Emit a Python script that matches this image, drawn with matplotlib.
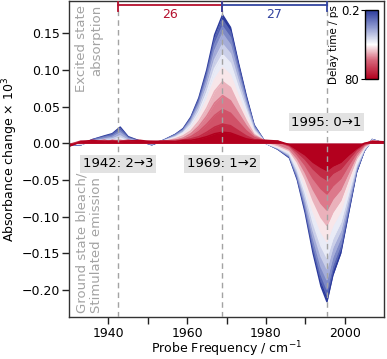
import numpy as np
import matplotlib
matplotlib.use("Agg")
import matplotlib.pyplot as plt
from matplotlib.colors import LinearSegmentedColormap, LogNorm
from matplotlib.cm import ScalarMappable

# probe frequency grid (cm-1)
freq = [1930, 1933, 1936, 1939, 1941, 1943, 1945, 1948, 1951,
        1954, 1957, 1959, 1961, 1963, 1965, 1967, 1969, 1971, 1973, 1975, 1977,
        1980, 1983, 1986, 1988, 1990, 1992, 1994, 1995.5, 1997, 1999, 2001, 2003, 2005, 2007, 2010]

# delay times (ps)
delays = [0.2, 0.4, 0.7, 1.2, 2, 3, 5, 8, 13, 22, 40, 80]

# absorbance change x 10^3, one row per delay time
spectra = [
    [-0.003, -0.002, 0.005, 0.010, 0.013, 0.022, 0.009, 0.003, -0.002,
     0.004, 0.012, 0.020, 0.036, 0.062, 0.100, 0.148, 0.175, 0.158, 0.110, 0.065, 0.025,
     0.000, -0.008, -0.020, -0.050, -0.095, -0.150, -0.195, -0.216, -0.180, -0.150, -0.095, -0.040, -0.010, 0.005, 0.000],
    [-0.003, -0.002, 0.005, 0.009, 0.012, 0.020, 0.008, 0.003, -0.002,
     0.004, 0.012, 0.019, 0.035, 0.060, 0.096, 0.142, 0.168, 0.152, 0.106, 0.062, 0.024,
     0.000, -0.008, -0.019, -0.048, -0.091, -0.144, -0.187, -0.207, -0.173, -0.144, -0.091, -0.038, -0.010, 0.005, 0.000],
    [-0.002, -0.002, 0.004, 0.008, 0.010, 0.017, 0.007, 0.002, -0.001,
     0.004, 0.011, 0.018, 0.033, 0.056, 0.091, 0.135, 0.159, 0.144, 0.100, 0.059, 0.023,
     0.000, -0.007, -0.018, -0.046, -0.087, -0.138, -0.179, -0.199, -0.166, -0.138, -0.087, -0.037, -0.009, 0.005, 0.000],
    [-0.002, -0.001, 0.003, 0.006, 0.008, 0.014, 0.006, 0.002, -0.001,
     0.003, 0.010, 0.017, 0.031, 0.053, 0.085, 0.126, 0.149, 0.134, 0.094, 0.055, 0.021,
     0.000, -0.007, -0.017, -0.043, -0.082, -0.129, -0.168, -0.186, -0.155, -0.129, -0.082, -0.034, -0.009, 0.004, 0.000],
    [-0.001, -0.001, 0.002, 0.005, 0.006, 0.010, 0.004, 0.001, 0.000,
     0.003, 0.009, 0.015, 0.028, 0.048, 0.077, 0.114, 0.135, 0.122, 0.085, 0.050, 0.019,
     0.000, -0.006, -0.016, -0.040, -0.075, -0.119, -0.154, -0.171, -0.142, -0.119, -0.075, -0.032, -0.008, 0.004, 0.000],
    [-0.001, -0.001, 0.002, 0.003, 0.004, 0.007, 0.003, 0.001, 0.000,
     0.003, 0.008, 0.014, 0.025, 0.043, 0.069, 0.102, 0.121, 0.109, 0.076, 0.045, 0.017,
     0.000, -0.006, -0.014, -0.036, -0.068, -0.108, -0.140, -0.156, -0.130, -0.108, -0.068, -0.029, -0.007, 0.004, 0.000],
    [-0.001, 0.000, 0.001, 0.002, 0.002, 0.004, 0.002, 0.001, 0.001,
     0.002, 0.007, 0.012, 0.021, 0.037, 0.059, 0.087, 0.103, 0.093, 0.065, 0.038, 0.015,
     0.001, -0.005, -0.012, -0.031, -0.059, -0.093, -0.121, -0.134, -0.112, -0.093, -0.059, -0.025, -0.006, 0.003, 0.000],
    [-0.001, 0.001, 0.001, 0.002, 0.001, 0.003, 0.001, 0.002, 0.001,
     0.002, 0.006, 0.010, 0.017, 0.030, 0.048, 0.071, 0.084, 0.076, 0.053, 0.031, 0.012,
     0.002, -0.003, -0.010, -0.026, -0.049, -0.078, -0.101, -0.112, -0.094, -0.078, -0.049, -0.021, -0.005, 0.003, 0.001],
    [-0.002, 0.001, 0.003, 0.002, 0.003, 0.004, 0.002, 0.001, 0.002,
     0.002, 0.004, 0.007, 0.013, 0.023, 0.037, 0.055, 0.065, 0.058, 0.041, 0.024, 0.010,
     0.003, -0.001, -0.008, -0.021, -0.040, -0.063, -0.082, -0.091, -0.076, -0.063, -0.040, -0.017, -0.003, 0.002, 0.001],
    [-0.003, 0.002, 0.003, 0.001, 0.004, 0.003, 0.002, 0.003, 0.001,
     0.003, 0.004, 0.005, 0.009, 0.016, 0.026, 0.038, 0.046, 0.041, 0.029, 0.017, 0.008,
     0.002, 0.003, -0.004, -0.016, -0.030, -0.048, -0.062, -0.069, -0.058, -0.048, -0.030, -0.013, -0.002, 0.002, 0.002],
    [-0.002, 0.003, 0.002, 0.004, 0.002, 0.003, 0.004, 0.002, 0.003,
     0.002, 0.003, 0.004, 0.006, 0.009, 0.015, 0.022, 0.026, 0.024, 0.017, 0.010, 0.005,
     0.003, 0.002, -0.003, -0.012, -0.022, -0.035, -0.045, -0.050, -0.041, -0.035, -0.022, -0.009, -0.001, 0.003, 0.002],
    [-0.004, 0.002, 0.004, 0.002, 0.003, 0.002, 0.003, 0.004, 0.002,
     0.003, 0.002, 0.004, 0.004, 0.006, 0.009, 0.013, 0.015, 0.014, 0.010, 0.006, 0.004,
     0.004, 0.003, -0.002, -0.009, -0.016, -0.026, -0.033, -0.037, -0.031, -0.026, -0.016, -0.007, 0.000, 0.002, 0.002],
]

# marked transitions
trans_freq = [1942.5, 1968.9, 1995.4]
trans_labels = ["1942: 2\u21923", "1969: 1\u21922", "1995: 0\u21921"]
gap_labels = ["26", "27"]

red = "#b5102e"
blue = "#3445a0"
grey = "#a3a3a3"

cmap = LinearSegmentedColormap.from_list(
    "delay", [(0, "#2b3a9c"), (0.25, "#8f9ad0"), (0.5, "#ffffff"), (0.72, "#d86a7e"), (1, "#b3001e")])
norm = LogNorm(vmin=delays[0], vmax=delays[-1])

plt.rcParams["font.family"] = "DejaVu Sans"
fig = plt.figure(figsize=(3.87, 3.59), dpi=100)
ax = fig.add_axes([69 / 387, 1 - 317 / 359, 315 / 387, 316 / 359])

for t, spec in zip(delays, spectra):
    c = cmap(norm(t))
    ax.fill_between(freq, 0, spec, color=c, lw=0, zorder=2)
    ax.plot(freq, spec, color=c, lw=1.1, zorder=2)

for f in trans_freq:
    ax.axvline(f, color=grey, lw=1, ls=(0, (4, 3)), zorder=3)

# bracket at the top
ytop = 0.1885
for (x0, x1), col, lab in zip([(trans_freq[0], trans_freq[1]), (trans_freq[1], trans_freq[2])], [red, blue], gap_labels):
    ax.plot([x0, x1], [ytop, ytop], color=col, lw=1.3, zorder=4)
    ax.plot([x0, x0], [0.181, 0.193], color=col, lw=1.3, zorder=4)
    ax.plot([x1, x1], [0.181, 0.193], color=col, lw=1.3, zorder=4)
    ax.text((x0 + x1) / 2, 0.176, lab, color=col, ha="center", va="center", fontsize=9, zorder=4)

box = dict(boxstyle="square,pad=0.2", fc="#e2e2e2", ec="none")
ax.text(trans_freq[0], -0.028, trans_labels[0], ha="center", va="center", fontsize=9.5, bbox=box, zorder=5)
ax.text(trans_freq[1], -0.028, trans_labels[1], ha="center", va="center", fontsize=9.5, bbox=box, zorder=5)
ax.text(trans_freq[2], 0.0285, trans_labels[2], ha="center", va="center", fontsize=9.5, bbox=box, zorder=5)

ax.text(1935.2, 0.189, "Excited state\nabsorption", rotation=90, ha="center", va="top",
        multialignment="right", color=grey, fontsize=9.5, zorder=5)
ax.text(1935.2, -0.231, "Ground state bleach/\nStimulated emission", rotation=90, ha="center", va="bottom",
        multialignment="left", color=grey, fontsize=9.5, zorder=5)

ax.set_xlim(1930, 2010)
ax.set_ylim(-0.237, 0.194)
ax.set_xticks([1940, 1950, 1960, 1970, 1980, 1990, 2000])
ax.set_xticklabels(["1940", "", "1960", "", "1980", "", "2000"])
ax.set_yticks([-0.20, -0.15, -0.10, -0.05, 0.00, 0.05, 0.10, 0.15])
ax.set_yticklabels(["\u22120.20", "\u22120.15", "\u22120.10", "\u22120.05", "0.00", "0.05", "0.10", "0.15"])
ax.tick_params(direction="out", length=5, width=1, labelsize=9, color="#222222")
ax.tick_params(axis="y", pad=1.5)
ax.tick_params(axis="x", pad=2)
for s in ax.spines.values():
    s.set_color("#333333")
    s.set_linewidth(1)
ax.set_xlabel("Probe Frequency / cm$^{-1}$", fontsize=9, labelpad=0)
ax.set_ylabel("Absorbance change \u00d7 10$^3$", fontsize=9, labelpad=1)

# colour bar for delay time
cax = fig.add_axes([365 / 387, 1 - 79 / 359, 12.5 / 387, 69 / 359])
sm = ScalarMappable(norm=norm, cmap=cmap)
cb = fig.colorbar(sm, cax=cax)
cb.ax.invert_yaxis()
cb.set_ticks([0.2, 80])
cb.set_ticklabels(["0.2", "80"])
cb.ax.minorticks_off()
cb.ax.yaxis.set_ticks_position("left")
cb.ax.yaxis.set_label_position("left")
cb.ax.tick_params(labelsize=8.5, length=3, pad=1)
cb.set_label("Delay time / ps", fontsize=7.5, labelpad=1)
cb.outline.set_linewidth(1)

fig.savefig("out.png", dpi=100)
